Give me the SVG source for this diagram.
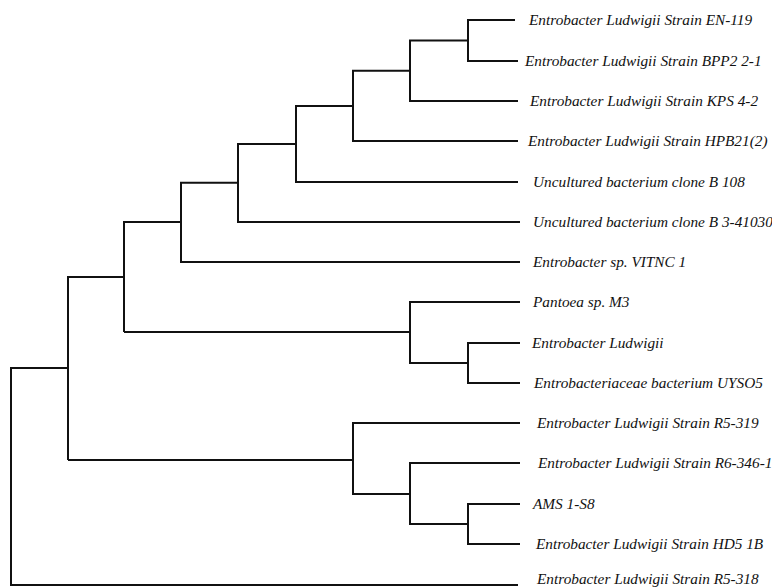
<svg xmlns="http://www.w3.org/2000/svg" width="772" height="588" viewBox="0 0 772 588">
<style>
.br{fill:none;stroke:#111;stroke-width:2;stroke-linejoin:miter;stroke-linecap:butt}
.lb{font-family:"Liberation Serif","Times New Roman",serif;font-style:italic;font-size:15.3px;fill:#111}
</style>
<rect width="772" height="588" fill="#fff"/>
<g id="connectors">
<path class="br" d="M515 20 H468 V61 H518"/>
<path class="br" d="M468 40.5 H410 V101 H518"/>
<path class="br" d="M410 70.7 H353 V141 H518"/>
<path class="br" d="M353 106 H296 V182 H518"/>
<path class="br" d="M296 144 H238 V222 H520"/>
<path class="br" d="M238 182.7 H181 V262 H520"/>
<path class="br" d="M181 222 H124 V332"/>
<path class="br" d="M124 277 H68 V460"/>
<path class="br" d="M68 368 H11 V585 H518"/>
<path class="br" d="M520 343 H468 V383 H520"/>
<path class="br" d="M468 363 H410 V302 H520"/>
<path class="br" d="M124 332 H410"/>
<path class="br" d="M520 504 H468 V544 H520"/>
<path class="br" d="M468 524 H410 V463 H520"/>
<path class="br" d="M410 494 H353 V423 H520"/>
<path class="br" d="M68 460 H353"/>
</g>
<g id="leaf-en119"><text class="lb" x="529" y="25">Entrobacter Ludwigii Strain EN-119</text></g>
<g id="leaf-bpp2"><text class="lb" x="525" y="66">Entrobacter Ludwigii Strain BPP2 2-1</text></g>
<g id="leaf-kps"><text class="lb" x="530" y="106">Entrobacter Ludwigii Strain KPS 4-2</text></g>
<g id="leaf-hpb21"><text class="lb" x="528" y="146">Entrobacter Ludwigii Strain HPB21(2)</text></g>
<g id="leaf-b108"><text class="lb" x="533" y="187">Uncultured bacterium clone B 108</text></g>
<g id="leaf-b3"><text class="lb" x="533" y="227">Uncultured bacterium clone B 3-41030</text></g>
<g id="leaf-vitnc"><text class="lb" x="533" y="267">Entrobacter sp. VITNC 1</text></g>
<g id="leaf-pantoea"><text class="lb" x="533" y="307">Pantoea sp. M3</text></g>
<g id="leaf-ludwigii"><text class="lb" x="532" y="348">Entrobacter Ludwigii</text></g>
<g id="leaf-uyso5"><text class="lb" x="534" y="388">Entrobacteriaceae bacterium UYSO5</text></g>
<g id="leaf-r5-319"><text class="lb" x="537" y="428">Entrobacter Ludwigii Strain R5-319</text></g>
<g id="leaf-r6"><text class="lb" x="538" y="468">Entrobacter Ludwigii Strain R6-346-1</text></g>
<g id="leaf-ams"><text class="lb" x="533" y="509">AMS 1-S8</text></g>
<g id="leaf-hd5"><text class="lb" x="536" y="549">Entrobacter Ludwigii Strain HD5 1B</text></g>
<g id="leaf-r5-318"><text class="lb" x="537" y="584">Entrobacter Ludwigii Strain R5-318</text></g>
</svg>
